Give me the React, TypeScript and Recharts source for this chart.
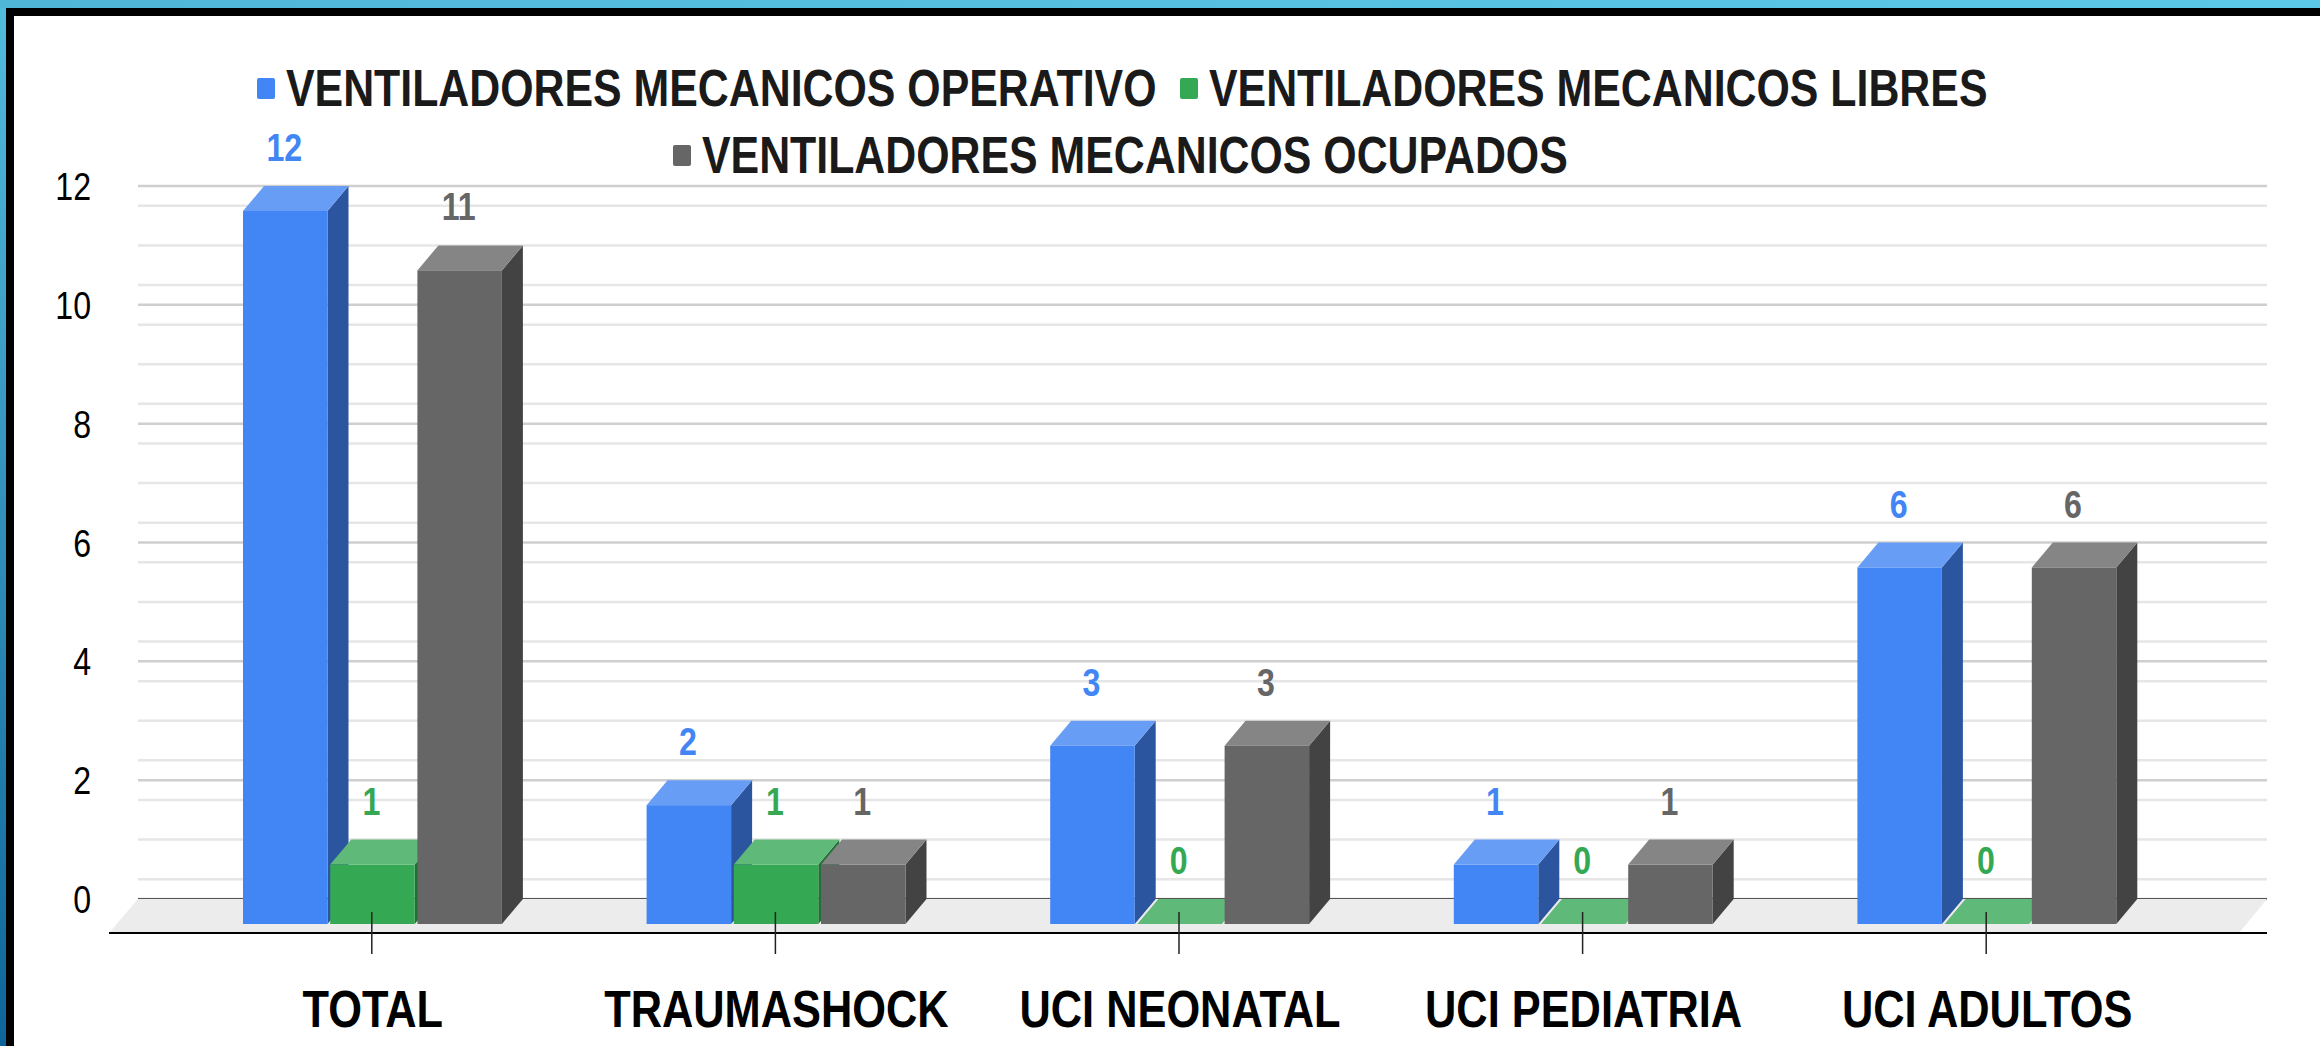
import { BarChart, Bar, CartesianGrid, Legend, XAxis, YAxis } from 'recharts';

const categories = ['TOTAL', 'TRAUMASHOCK', 'UCI NEONATAL', 'UCI PEDIATRIA', 'UCI ADULTOS'];
const operativos = [12, 2, 3, 1, 6];
const libres = [1, 1, 0, 0, 0];
const ocupados = [11, 1, 3, 1, 6];
const majorTicks = [0, 2, 4, 6, 8, 10, 12];
const minorTicks = [
  1 / 3, 2 / 3, 1, 4 / 3, 5 / 3, 7 / 3, 8 / 3, 3, 10 / 3, 11 / 3, 13 / 3, 14 / 3, 5, 16 / 3, 17 / 3,
  19 / 3, 20 / 3, 7, 22 / 3, 23 / 3, 25 / 3, 26 / 3, 9, 28 / 3, 29 / 3, 31 / 3, 32 / 3, 11, 34 / 3, 35 / 3,
];

const data = categories.map((name, i) => ({
  name,
  operativos: operativos[i],
  libres: libres[i],
  ocupados: ocupados[i],
}));

const FONT = '"Liberation Sans", Arial, sans-serif';
const SQUEEZE = 0.824; // the reference text is squashed sideways
const DEPTH_X = 21;
const DEPTH_Y = 25;

const BLUE = { front: '#4285f4', side: '#2b559f', top: '#689df6' };
const GREEN = { front: '#34a853', side: '#227038', top: '#5fb978' };
const GRAY = { front: '#666666', side: '#434343', top: '#858585' };

// box drawn from the bar rect the library computes, pushed forward by the depth
function box(colors: { front: string; side: string; top: string }) {
  return function BoxShape(props: any) {
    const { x, y, width, height } = props;
    const fy = y + DEPTH_Y;
    return (
      <g>
        {height > 0 && (
          <polygon
            fill={colors.side}
            points={`${x + width},${fy} ${x + width + DEPTH_X},${y} ${x + width + DEPTH_X},${y + height} ${x + width},${fy + height}`}
          />
        )}
        <polygon
          fill={colors.top}
          points={`${x},${fy} ${x + DEPTH_X},${y} ${x + width + DEPTH_X},${y} ${x + width},${fy}`}
        />
        {height > 0 && <rect x={x} y={fy} width={width} height={height} fill={colors.front} />}
      </g>
    );
  };
}

function Squeezed({ x, y, anchor = 'middle', squeeze = SQUEEZE, children, ...rest }: any) {
  return (
    <text transform={`translate(${x},${y}) scale(${squeeze},1)`} textAnchor={anchor} fontFamily={FONT} {...rest}>
      {children}
    </text>
  );
}

function valueLabel(color: string) {
  return function ValueLabel(props: any) {
    const { x, y, width, value } = props;
    return (
      <Squeezed x={x + width / 2 - 1} y={y - 25} fill={color} fontSize={39} fontWeight="bold">
        {value}
      </Squeezed>
    );
  };
}

function ValueTick(props: any) {
  const { x, y, payload } = props;
  return (
    <Squeezed x={x} y={y + 14} anchor="end" fill="#000000" fontSize={39}>
      {payload.value}
    </Squeezed>
  );
}

function CategoryTick(props: any) {
  const { x, y, payload } = props;
  return (
    <g>
      <line x1={x - 1} x2={x - 1} y1={y + 13} y2={y + 55} stroke="#222222" strokeWidth={1.5} />
      <Squeezed x={x} y={y + 128} squeeze={0.834} fill="#000000" fontSize={52} fontWeight="bold">
        {payload.value}
      </Squeezed>
    </g>
  );
}

const legendTextWidths: Record<string, number> = {
  'VENTILADORES MECANICOS OPERATIVO': 870,
  'VENTILADORES MECANICOS LIBRES': 774,
  'VENTILADORES MECANICOS OCUPADOS': 865,
};

function LegendContent({ payload }: any) {
  return (
    <div style={{ display: 'flex', flexWrap: 'wrap', justifyContent: 'center', rowGap: 7 }}>
      {(payload || []).map((entry: any) => (
        <div key={entry.value} style={{ display: 'flex', alignItems: 'center', margin: '0 12px', height: 60 }}>
          <div style={{ width: 18, height: 21, background: entry.color, borderRadius: 2, marginRight: 11 }} />
          <div style={{ width: legendTextWidths[entry.value] }}>
            <span
              style={{
                display: 'inline-block',
                fontFamily: FONT,
                fontSize: 52,
                fontWeight: 'bold',
                color: '#1a1a1a',
                whiteSpace: 'nowrap',
                transform: `scaleX(${SQUEEZE})`,
                transformOrigin: 'left center',
              }}
            >
              {entry.value}
            </span>
          </div>
        </div>
      ))}
    </div>
  );
}

export default function App() {
  return (
    <div
      style={{
        position: 'absolute',
        left: 0,
        top: 0,
        width: 2320,
        height: 1046,
        overflow: 'hidden',
        background: '#ffffff',
      }}
    >
      <BarChart
        width={2320}
        height={1046}
        data={data}
        margin={{ top: 186, right: 53, bottom: 0, left: 0 }}
        barSize={84.5}
        barGap={2.7}
      >
        <polygon points="138,899 2267,899 2239,933 109,933" fill="#ececec" />
        <line x1={109} x2={2267} y1={933} y2={933} stroke="#000000" strokeWidth={2} />
        <CartesianGrid vertical={false} stroke="#e6e6e6" strokeWidth={2.5} horizontalValues={minorTicks} />
        <CartesianGrid vertical={false} stroke="#cfcfcf" strokeWidth={2.5} horizontalValues={majorTicks} />
        <CartesianGrid vertical={false} stroke="#555555" strokeWidth={2} horizontalValues={[0]} />
        <YAxis
          width={138}
          domain={[0, 12]}
          ticks={majorTicks}
          axisLine={false}
          tickLine={false}
          tickSize={0}
          tickMargin={47}
          tick={<ValueTick />}
        />
        <Legend
          verticalAlign="middle"
          itemSorter={null}
          content={<LegendContent />}
          wrapperStyle={{ position: 'absolute', left: 220, top: 58, width: 1800 }}
        />
        <Bar
          dataKey="operativos"
          name="VENTILADORES MECANICOS OPERATIVO"
          fill={BLUE.front}
          isAnimationActive={false}
          shape={box(BLUE)}
          label={valueLabel(BLUE.front)}
        />
        <Bar
          dataKey="libres"
          name="VENTILADORES MECANICOS LIBRES"
          fill={GREEN.front}
          isAnimationActive={false}
          shape={box(GREEN)}
          label={valueLabel(GREEN.front)}
        />
        <Bar
          dataKey="ocupados"
          name="VENTILADORES MECANICOS OCUPADOS"
          fill={GRAY.front}
          isAnimationActive={false}
          shape={box(GRAY)}
          label={valueLabel(GRAY.front)}
        />
        <XAxis
          dataKey="name"
          height={147}
          padding={{ left: 33, right: 78 }}
          interval={0}
          axisLine={false}
          tickLine={false}
          tickSize={0}
          tickMargin={0}
          tick={<CategoryTick />}
        />
      </BarChart>
      {/* frame of the screenshot */}
      <div style={{ position: 'absolute', left: 0, top: 0, width: 2320, height: 8, background: 'linear-gradient(90deg, #50b6d8, #5cc8e8)' }} />
      <div style={{ position: 'absolute', left: 6, top: 8, width: 2314, height: 8, background: '#000000' }} />
      <div style={{ position: 'absolute', left: 0, top: 8, width: 6, height: 1038, background: 'linear-gradient(#52bbdc, #0e6499)' }} />
      <div style={{ position: 'absolute', left: 6, top: 8, width: 8, height: 1038, background: '#000000' }} />
    </div>
  );
}
